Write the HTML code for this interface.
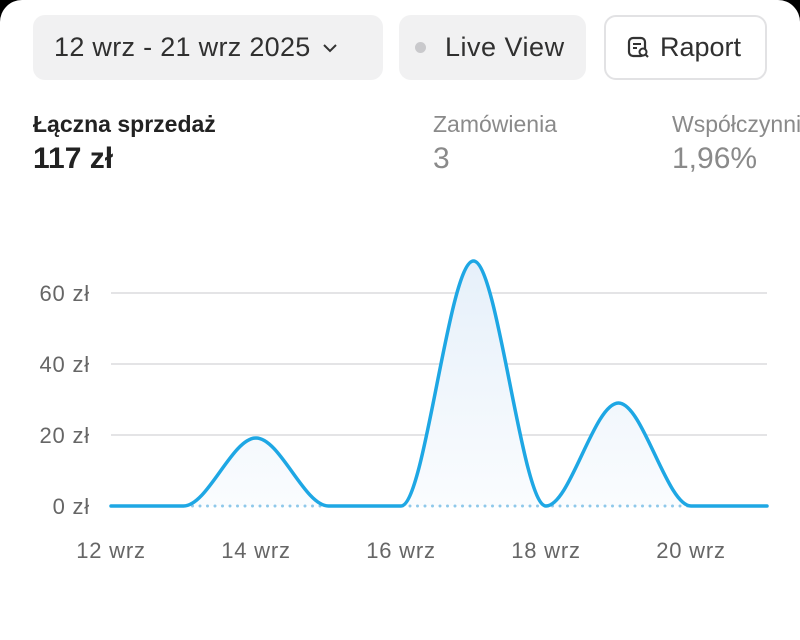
<!DOCTYPE html>
<html><head><meta charset="utf-8"><style>
body{margin:0;width:800px;height:604px;background:#000;overflow:hidden;font-family:"Liberation Sans",sans-serif}
.card{position:absolute;left:0;top:0;width:800px;height:640px;background:#fff;border-radius:22px 22px 0 0}
.btn{position:absolute;top:15px;height:65px;border-radius:12px;background:#f1f1f2;font-size:27px;color:#303030;display:flex;align-items:center;box-sizing:border-box;white-space:nowrap}
.lbl{position:absolute;font-size:23px;white-space:nowrap}
.val{position:absolute;font-size:30px;font-weight:bold}
</style></head><body><div class="card">
<div class="btn" style="left:33px;width:350px;padding-left:21px;letter-spacing:0.3px">12 wrz - 21 wrz 2025<svg width="20" height="14" style="margin-left:10px"><path d="M3 4 L9 10 L15 4" stroke="#333" stroke-width="2" fill="none"/></svg></div>
<div class="btn" style="left:399px;width:187px;padding-left:16px;letter-spacing:0.5px"><span style="width:11px;height:11px;border-radius:50%;background:#c9c9cc;margin-right:19px;display:inline-block"></span>Live View</div>
<div class="btn" style="left:604px;width:163px;background:#fff;border:2px solid #e2e2e4;padding-left:20px"><svg width="28" height="26" style="margin-right:6px"><rect x="3" y="3" width="16" height="18" rx="4" stroke="#333" stroke-width="2.2" fill="none"/><path d="M7 9h8M7 13h4" stroke="#333" stroke-width="2"/><circle cx="17" cy="17" r="3.5" stroke="#333" stroke-width="2" fill="#fff"/><path d="M19.5 19.5 L22 22" stroke="#333" stroke-width="2"/></svg>Raport</div>
<div class="lbl" style="left:33px;top:111px;font-weight:bold;color:#222">Łączna sprzedaż</div>
<div class="val" style="left:33px;top:142px;color:#222">117 zł</div>
<div class="lbl" style="left:433px;top:111px;color:#8a8a8a">Zamówienia</div>
<div class="val" style="left:433px;top:142px;color:#8a8a8a;font-weight:normal">3</div>
<div class="lbl" style="left:672px;top:111px;color:#8a8a8a">Współczynnik</div>
<div class="val" style="left:672px;top:142px;color:#8a8a8a;font-weight:normal">1,96%</div>
<svg style="position:absolute;left:0;top:0" width="800" height="604">
<defs><linearGradient id="g" x1="0" y1="0" x2="0" y2="1"><stop offset="0" stop-color="#e6f0fa"/><stop offset="1" stop-color="#fafcfe"/></linearGradient></defs>
<g stroke="#e4e4e6" stroke-width="2"><line x1="111" y1="293" x2="767" y2="293"/><line x1="111" y1="364" x2="767" y2="364"/><line x1="111" y1="435" x2="767" y2="435"/></g>
<g font-size="22" fill="#666" text-anchor="end" font-family="Liberation Sans,sans-serif" letter-spacing="0.8">
<text x="90" y="301">60 zł</text><text x="90" y="372">40 zł</text><text x="90" y="443">20 zł</text><text x="90" y="514">0 zł</text></g>
<g font-size="22" fill="#666" text-anchor="middle" font-family="Liberation Sans,sans-serif" letter-spacing="0.8">
<text x="111" y="558">12 wrz</text><text x="256" y="558">14 wrz</text><text x="401" y="558">16 wrz</text><text x="546" y="558">18 wrz</text><text x="691" y="558">20 wrz</text></g>
<path d="M111 506 L183.5 506 C207.7 506 232 438 256 438 C280 438 304.3 506 328.5 506 L401 506 C425 506 449 261 473.5 261 C497.7 261 522 506 546 506 C570 506 594 403 618.5 403 C642.7 403 667 506 691 506 L767 506 Z" fill="url(#g)"/>
<line x1="185" y1="506" x2="690" y2="506" stroke="#8fc8ea" stroke-width="3" stroke-dasharray="0 7.5" stroke-linecap="round"/>
<path d="M111 506 L183.5 506 C207.7 506 232 438 256 438 C280 438 304.3 506 328.5 506 L401 506 C425 506 449 261 473.5 261 C497.7 261 522 506 546 506 C570 506 594 403 618.5 403 C642.7 403 667 506 691 506 L767 506" fill="none" stroke="#1ea7e4" stroke-width="3.5" stroke-linejoin="round" stroke-linecap="round"/>
</svg>
</div></body></html>
